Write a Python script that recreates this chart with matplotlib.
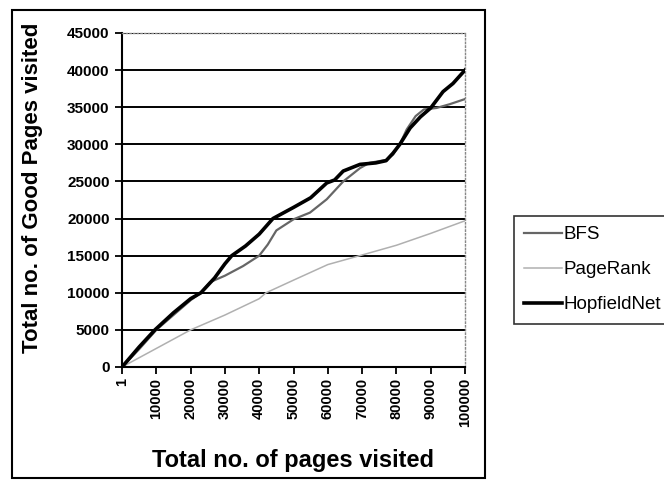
import numpy as np
import matplotlib
matplotlib.use('Agg')
import matplotlib.pyplot as plt
from matplotlib.patches import Rectangle

plt.rcParams['font.family'] = ['Liberation Sans', 'DejaVu Sans']

# values
hop_x = [0, 5000, 9600, 15000, 20000, 23000, 27000, 30000, 32000, 36000, 40000, 44000,
         50000, 55000, 59700, 62000, 64500, 69400, 74000, 77000, 79000, 81000, 84000,
         87000, 90000, 93600, 96500, 100000]
hop_y = [0, 2700, 5000, 7300, 9200, 10000, 12000, 13900, 15000, 16300, 17900, 20000,
         21500, 22800, 24800, 25200, 26400, 27300, 27500, 27800, 28800, 30000, 32200,
         33700, 34900, 37100, 38200, 40000]

bfs_x = [0, 5000, 10000, 15000, 20000, 23000, 25600, 27500, 30000, 35300, 40000, 42500,
         45000, 50000, 54800, 59700, 64500, 69400, 72100, 77000, 79000, 81000, 83000,
         85600, 88000, 91700, 95500, 100000]
bfs_y = [0, 2400, 5000, 7000, 9000, 10000, 11400, 11800, 12300, 13600, 15000, 16500,
         18400, 19900, 20800, 22600, 25000, 26800, 27500, 27900, 28600, 30000, 32000,
         33800, 34700, 34900, 35400, 36100]

pr_x = [0, 10000, 20000, 30000, 40000, 42000, 50000, 60000, 69300, 80000, 90000, 100000]
pr_y = [0, 2500, 5000, 7000, 9200, 10000, 11700, 13800, 15000, 16400, 18000, 19700]

xticks = [0, 10000, 20000, 30000, 40000, 50000, 60000, 70000, 80000, 90000, 100000]
xticklabels = ['1', '10000', '20000', '30000', '40000', '50000', '60000', '70000',
               '80000', '90000', '100000']
yticks = [0, 5000, 10000, 15000, 20000, 25000, 30000, 35000, 40000, 45000]

fig = plt.figure(figsize=(6.64, 4.8), dpi=100)
ax = fig.add_axes([122/664, 1-367/480, 343/664, 334/480])

# outer chart frame
fig.patches.append(Rectangle((12/664, 2/480), 473/664, 468/480, transform=fig.transFigure,
                             fill=False, edgecolor='black', lw=1.5))

for yv in yticks[1:]:
    ax.axhline(yv, color='black', lw=1.4, zorder=1)

l1, = ax.plot(bfs_x, bfs_y, color='#666666', lw=1.6, zorder=3)
l2, = ax.plot(pr_x, pr_y, color='#b0b0b0', lw=1.1, zorder=2)
l3, = ax.plot(hop_x, hop_y, color='black', lw=2.6, zorder=4)

ax.set_xlim(0, 100000)
ax.set_ylim(0, 45000)
ax.set_xticks(xticks)
ax.set_xticklabels(xticklabels, rotation=90, fontsize=10.5, fontweight='bold')
ax.set_yticks(yticks)
ax.set_yticklabels([str(v) for v in yticks], fontsize=11, fontweight='bold')
ax.tick_params(axis='both', direction='out', length=5, width=1.3, color='black')
ax.tick_params(axis='x', pad=3)
ax.tick_params(axis='y', pad=4)

for s in ['left', 'bottom']:
    ax.spines[s].set_linewidth(1.5)
for s in ['top', 'right']:
    ax.spines[s].set_linestyle(':')
    ax.spines[s].set_color('#888888')
    ax.spines[s].set_linewidth(1.0)

ax.set_ylabel('Total no. of Good Pages visited', fontsize=16, fontweight='bold')
ax.yaxis.set_label_coords(-0.230, 0.536)
ax.set_xlabel('Total no. of pages visited', fontsize=17, fontweight='bold')
ax.xaxis.set_label_coords(0.5, -0.245)

leg = fig.legend([l1, l2, l3], ['BFS', 'PageRank', 'HopfieldNet'],
                 loc='upper left', bbox_to_anchor=(514/664, 1-216/480),
                 fontsize=13.5, frameon=True, fancybox=False, shadow=False,
                 handlelength=2.0, handletextpad=0.1, borderpad=0.55, labelspacing=0.95,
                 borderaxespad=0)
leg.get_frame().set_edgecolor('black')
leg.get_frame().set_linewidth(1.2)

fig.savefig('out.png', dpi=100)
